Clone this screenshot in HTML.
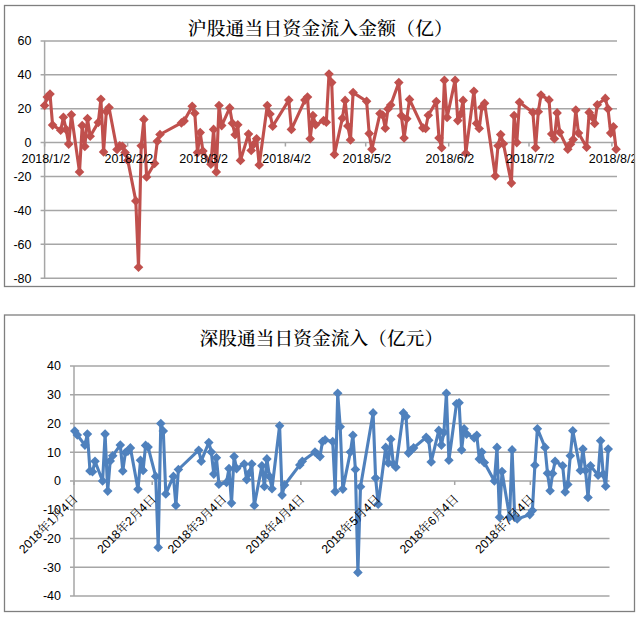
<!DOCTYPE html>
<html lang="zh"><head><meta charset="utf-8"><title>沪股通 / 深股通 当日资金流入</title>
<style>html,body{margin:0;padding:0;background:#fff}svg{display:block}text{font-family:"Liberation Sans","Noto Sans CJK SC",sans-serif;fill:#000}.r{font-family:"Liberation Sans","Noto Serif CJK SC",serif}.t{font-family:"Liberation Serif","Noto Serif CJK SC",serif;font-size:18.67px;font-weight:500;letter-spacing:0.3px;fill:#000}</style></head><body>
<svg width="640" height="619" viewBox="0 0 640 619">
<rect width="640" height="619" fill="#fff"/>
<rect x="4.5" y="5.5" width="630" height="281" fill="#fff" stroke="#7f7f7f" stroke-width="1.3"/>
<line x1="40.6" y1="40.9" x2="617" y2="40.9" stroke="#a6a6a6" stroke-width="1.5"/>
<text x="31.5" y="45.3" font-size="12.5" text-anchor="end">60</text>
<line x1="40.6" y1="74.8" x2="617" y2="74.8" stroke="#a6a6a6" stroke-width="1.5"/>
<text x="31.5" y="79.2" font-size="12.5" text-anchor="end">40</text>
<line x1="40.6" y1="108.7" x2="617" y2="108.7" stroke="#a6a6a6" stroke-width="1.5"/>
<text x="31.5" y="113.1" font-size="12.5" text-anchor="end">20</text>
<line x1="40.6" y1="142.6" x2="617" y2="142.6" stroke="#a6a6a6" stroke-width="1.5"/>
<text x="31.5" y="147.0" font-size="12.5" text-anchor="end">0</text>
<line x1="40.6" y1="176.5" x2="617" y2="176.5" stroke="#a6a6a6" stroke-width="1.5"/>
<text x="31.5" y="180.9" font-size="12.5" text-anchor="end">-20</text>
<line x1="40.6" y1="210.4" x2="617" y2="210.4" stroke="#a6a6a6" stroke-width="1.5"/>
<text x="31.5" y="214.8" font-size="12.5" text-anchor="end">-40</text>
<line x1="40.6" y1="244.3" x2="617" y2="244.3" stroke="#a6a6a6" stroke-width="1.5"/>
<text x="31.5" y="248.7" font-size="12.5" text-anchor="end">-60</text>
<line x1="40.6" y1="278.2" x2="617" y2="278.2" stroke="#a6a6a6" stroke-width="1.5"/>
<text x="31.5" y="282.6" font-size="12.5" text-anchor="end">-80</text>
<line x1="44.6" y1="40.9" x2="44.6" y2="278.2" stroke="#a6a6a6" stroke-width="1.5"/>
<line x1="44.6" y1="142.6" x2="44.6" y2="146.5" stroke="#a6a6a6" stroke-width="1.5"/>
<line x1="127.6" y1="142.6" x2="127.6" y2="146.5" stroke="#a6a6a6" stroke-width="1.5"/>
<line x1="202.5" y1="142.6" x2="202.5" y2="146.5" stroke="#a6a6a6" stroke-width="1.5"/>
<line x1="285.4" y1="142.6" x2="285.4" y2="146.5" stroke="#a6a6a6" stroke-width="1.5"/>
<line x1="365.7" y1="142.6" x2="365.7" y2="146.5" stroke="#a6a6a6" stroke-width="1.5"/>
<line x1="448.7" y1="142.6" x2="448.7" y2="146.5" stroke="#a6a6a6" stroke-width="1.5"/>
<line x1="529.0" y1="142.6" x2="529.0" y2="146.5" stroke="#a6a6a6" stroke-width="1.5"/>
<line x1="611.9" y1="142.6" x2="611.9" y2="146.5" stroke="#a6a6a6" stroke-width="1.5"/>
<clipPath id="c1"><rect x="5" y="6" width="629" height="280"/></clipPath>
<text class="t" x="187.7" y="34.8">沪股通当日资金流入金额（亿）</text>
<polyline fill="none" stroke="#c0504d" stroke-width="3.1" stroke-linejoin="round" points="44.6,105.5 47.3,97.0 50.0,94.1 52.6,125.1 60.7,130.2 63.4,117.3 66.1,129.4 68.7,144.1 71.4,114.8 79.5,171.9 82.2,125.6 84.8,146.5 87.5,118.5 90.2,136.3 98.3,122.4 100.9,99.2 103.6,151.9 106.3,111.6 109.0,107.5 117.0,149.5 119.7,145.7 122.4,146.2 125.1,152.6 127.8,160.4 135.8,200.9 138.5,267.2 141.2,145.7 143.9,119.4 146.6,177.0 154.6,163.4 157.3,141.2 160.0,134.5 181.4,122.9 184.1,120.9 192.2,106.2 194.8,113.3 197.5,152.6 200.2,132.6 202.9,151.1 210.9,164.3 213.6,129.4 216.3,171.9 219.0,105.5 221.7,125.6 229.7,107.9 232.4,123.3 235.1,134.8 237.8,124.8 240.5,160.4 248.5,134.1 251.2,150.4 253.9,144.1 256.6,138.7 259.2,165.0 267.3,105.5 270.0,114.0 272.7,126.3 288.8,100.1 291.4,129.4 304.9,100.1 307.5,97.0 310.2,138.7 312.9,115.5 315.6,124.8 323.6,120.6 326.3,122.3 329.0,74.1 331.7,82.6 334.4,154.5 342.4,118.2 345.1,100.4 347.8,126.0 350.5,139.9 353.1,92.6 366.6,101.2 369.2,133.6 371.9,149.2 380.0,113.6 382.7,115.1 385.3,128.2 388.0,108.9 390.7,105.0 398.8,82.6 401.4,115.8 404.1,138.0 406.8,118.7 409.5,99.4 422.9,127.9 425.6,128.4 428.3,115.3 436.3,101.6 439.0,138.0 441.7,147.7 444.4,80.2 447.1,117.5 455.1,80.2 457.8,120.6 460.5,114.3 463.1,100.4 465.8,153.3 473.9,91.2 476.6,123.4 479.2,128.5 481.9,107.3 484.6,103.3 495.3,176.0 498.0,145.8 500.7,134.6 503.4,143.8 511.4,183.1 514.1,115.5 516.8,142.6 519.5,102.3 532.9,112.4 535.6,147.7 538.3,111.8 541.0,95.1 549.0,99.9 551.7,134.0 554.4,138.7 557.1,112.9 559.7,132.3 567.8,149.2 570.5,144.3 573.2,139.5 575.8,110.1 578.5,133.1 586.6,147.3 589.2,112.4 591.9,116.8 594.6,123.4 597.3,104.8 605.3,98.4 608.0,108.9 610.7,133.1 613.4,126.7 616.1,149.2"/>
<g fill="#c0504d">
<path d="M44.6 100.7L49.4 105.5L44.6 110.3L39.8 105.5Z"/>
<path d="M47.3 92.2L52.1 97.0L47.3 101.8L42.5 97.0Z"/>
<path d="M50.0 89.3L54.8 94.1L50.0 98.9L45.2 94.1Z"/>
<path d="M52.6 120.3L57.4 125.1L52.6 129.9L47.8 125.1Z"/>
<path d="M60.7 125.4L65.5 130.2L60.7 135.0L55.9 130.2Z"/>
<path d="M63.4 112.5L68.2 117.3L63.4 122.1L58.6 117.3Z"/>
<path d="M66.1 124.6L70.9 129.4L66.1 134.2L61.3 129.4Z"/>
<path d="M68.7 139.3L73.5 144.1L68.7 148.9L63.9 144.1Z"/>
<path d="M71.4 110.0L76.2 114.8L71.4 119.6L66.6 114.8Z"/>
<path d="M79.5 167.1L84.3 171.9L79.5 176.7L74.7 171.9Z"/>
<path d="M82.2 120.8L87.0 125.6L82.2 130.4L77.4 125.6Z"/>
<path d="M84.8 141.7L89.6 146.5L84.8 151.3L80.0 146.5Z"/>
<path d="M87.5 113.7L92.3 118.5L87.5 123.3L82.7 118.5Z"/>
<path d="M90.2 131.5L95.0 136.3L90.2 141.1L85.4 136.3Z"/>
<path d="M98.3 117.6L103.1 122.4L98.3 127.2L93.5 122.4Z"/>
<path d="M100.9 94.4L105.7 99.2L100.9 104.0L96.1 99.2Z"/>
<path d="M103.6 147.1L108.4 151.9L103.6 156.7L98.8 151.9Z"/>
<path d="M106.3 106.8L111.1 111.6L106.3 116.4L101.5 111.6Z"/>
<path d="M109.0 102.7L113.8 107.5L109.0 112.3L104.2 107.5Z"/>
<path d="M117.0 144.7L121.8 149.5L117.0 154.3L112.2 149.5Z"/>
<path d="M119.7 140.9L124.5 145.7L119.7 150.5L114.9 145.7Z"/>
<path d="M122.4 141.4L127.2 146.2L122.4 151.0L117.6 146.2Z"/>
<path d="M125.1 147.8L129.9 152.6L125.1 157.4L120.3 152.6Z"/>
<path d="M127.8 155.6L132.6 160.4L127.8 165.2L123.0 160.4Z"/>
<path d="M135.8 196.1L140.6 200.9L135.8 205.7L131.0 200.9Z"/>
<path d="M138.5 262.4L143.3 267.2L138.5 272.0L133.7 267.2Z"/>
<path d="M141.2 140.9L146.0 145.7L141.2 150.5L136.4 145.7Z"/>
<path d="M143.9 114.6L148.7 119.4L143.9 124.2L139.1 119.4Z"/>
<path d="M146.6 172.2L151.4 177.0L146.6 181.8L141.8 177.0Z"/>
<path d="M154.6 158.6L159.4 163.4L154.6 168.2L149.8 163.4Z"/>
<path d="M157.3 136.4L162.1 141.2L157.3 146.0L152.5 141.2Z"/>
<path d="M160.0 129.7L164.8 134.5L160.0 139.3L155.2 134.5Z"/>
<path d="M181.4 118.1L186.2 122.9L181.4 127.7L176.6 122.9Z"/>
<path d="M184.1 116.1L188.9 120.9L184.1 125.7L179.3 120.9Z"/>
<path d="M192.2 101.4L197.0 106.2L192.2 111.0L187.4 106.2Z"/>
<path d="M194.8 108.5L199.6 113.3L194.8 118.1L190.0 113.3Z"/>
<path d="M197.5 147.8L202.3 152.6L197.5 157.4L192.7 152.6Z"/>
<path d="M200.2 127.8L205.0 132.6L200.2 137.4L195.4 132.6Z"/>
<path d="M202.9 146.3L207.7 151.1L202.9 155.9L198.1 151.1Z"/>
<path d="M210.9 159.5L215.7 164.3L210.9 169.1L206.1 164.3Z"/>
<path d="M213.6 124.6L218.4 129.4L213.6 134.2L208.8 129.4Z"/>
<path d="M216.3 167.1L221.1 171.9L216.3 176.7L211.5 171.9Z"/>
<path d="M219.0 100.7L223.8 105.5L219.0 110.3L214.2 105.5Z"/>
<path d="M221.7 120.8L226.5 125.6L221.7 130.4L216.9 125.6Z"/>
<path d="M229.7 103.1L234.5 107.9L229.7 112.7L224.9 107.9Z"/>
<path d="M232.4 118.5L237.2 123.3L232.4 128.1L227.6 123.3Z"/>
<path d="M235.1 130.0L239.9 134.8L235.1 139.6L230.3 134.8Z"/>
<path d="M237.8 120.0L242.6 124.8L237.8 129.6L233.0 124.8Z"/>
<path d="M240.5 155.6L245.3 160.4L240.5 165.2L235.7 160.4Z"/>
<path d="M248.5 129.3L253.3 134.1L248.5 138.9L243.7 134.1Z"/>
<path d="M251.2 145.6L256.0 150.4L251.2 155.2L246.4 150.4Z"/>
<path d="M253.9 139.3L258.7 144.1L253.9 148.9L249.1 144.1Z"/>
<path d="M256.6 133.9L261.4 138.7L256.6 143.5L251.8 138.7Z"/>
<path d="M259.2 160.2L264.0 165.0L259.2 169.8L254.4 165.0Z"/>
<path d="M267.3 100.7L272.1 105.5L267.3 110.3L262.5 105.5Z"/>
<path d="M270.0 109.2L274.8 114.0L270.0 118.8L265.2 114.0Z"/>
<path d="M272.7 121.5L277.5 126.3L272.7 131.1L267.9 126.3Z"/>
<path d="M288.8 95.3L293.6 100.1L288.8 104.9L284.0 100.1Z"/>
<path d="M291.4 124.6L296.2 129.4L291.4 134.2L286.6 129.4Z"/>
<path d="M304.9 95.3L309.7 100.1L304.9 104.9L300.1 100.1Z"/>
<path d="M307.5 92.2L312.3 97.0L307.5 101.8L302.7 97.0Z"/>
<path d="M310.2 133.9L315.0 138.7L310.2 143.5L305.4 138.7Z"/>
<path d="M312.9 110.7L317.7 115.5L312.9 120.3L308.1 115.5Z"/>
<path d="M315.6 120.0L320.4 124.8L315.6 129.6L310.8 124.8Z"/>
<path d="M323.6 115.8L328.4 120.6L323.6 125.4L318.8 120.6Z"/>
<path d="M326.3 117.5L331.1 122.3L326.3 127.1L321.5 122.3Z"/>
<path d="M329.0 69.3L333.8 74.1L329.0 78.9L324.2 74.1Z"/>
<path d="M331.7 77.8L336.5 82.6L331.7 87.4L326.9 82.6Z"/>
<path d="M334.4 149.7L339.2 154.5L334.4 159.3L329.6 154.5Z"/>
<path d="M342.4 113.4L347.2 118.2L342.4 123.0L337.6 118.2Z"/>
<path d="M345.1 95.6L349.9 100.4L345.1 105.2L340.3 100.4Z"/>
<path d="M347.8 121.2L352.6 126.0L347.8 130.8L343.0 126.0Z"/>
<path d="M350.5 135.1L355.3 139.9L350.5 144.7L345.7 139.9Z"/>
<path d="M353.1 87.8L357.9 92.6L353.1 97.4L348.3 92.6Z"/>
<path d="M366.6 96.4L371.4 101.2L366.6 106.0L361.8 101.2Z"/>
<path d="M369.2 128.8L374.0 133.6L369.2 138.4L364.4 133.6Z"/>
<path d="M371.9 144.4L376.7 149.2L371.9 154.0L367.1 149.2Z"/>
<path d="M380.0 108.8L384.8 113.6L380.0 118.4L375.2 113.6Z"/>
<path d="M382.7 110.3L387.5 115.1L382.7 119.9L377.9 115.1Z"/>
<path d="M385.3 123.4L390.1 128.2L385.3 133.0L380.5 128.2Z"/>
<path d="M388.0 104.1L392.8 108.9L388.0 113.7L383.2 108.9Z"/>
<path d="M390.7 100.2L395.5 105.0L390.7 109.8L385.9 105.0Z"/>
<path d="M398.8 77.8L403.6 82.6L398.8 87.4L394.0 82.6Z"/>
<path d="M401.4 111.0L406.2 115.8L401.4 120.6L396.6 115.8Z"/>
<path d="M404.1 133.2L408.9 138.0L404.1 142.8L399.3 138.0Z"/>
<path d="M406.8 113.9L411.6 118.7L406.8 123.5L402.0 118.7Z"/>
<path d="M409.5 94.6L414.3 99.4L409.5 104.2L404.7 99.4Z"/>
<path d="M422.9 123.1L427.7 127.9L422.9 132.7L418.1 127.9Z"/>
<path d="M425.6 123.6L430.4 128.4L425.6 133.2L420.8 128.4Z"/>
<path d="M428.3 110.5L433.1 115.3L428.3 120.1L423.5 115.3Z"/>
<path d="M436.3 96.8L441.1 101.6L436.3 106.4L431.5 101.6Z"/>
<path d="M439.0 133.2L443.8 138.0L439.0 142.8L434.2 138.0Z"/>
<path d="M441.7 142.9L446.5 147.7L441.7 152.5L436.9 147.7Z"/>
<path d="M444.4 75.4L449.2 80.2L444.4 85.0L439.6 80.2Z"/>
<path d="M447.1 112.7L451.9 117.5L447.1 122.3L442.2 117.5Z"/>
<path d="M455.1 75.4L459.9 80.2L455.1 85.0L450.3 80.2Z"/>
<path d="M457.8 115.8L462.6 120.6L457.8 125.4L453.0 120.6Z"/>
<path d="M460.5 109.5L465.3 114.3L460.5 119.1L455.7 114.3Z"/>
<path d="M463.1 95.6L467.9 100.4L463.1 105.2L458.3 100.4Z"/>
<path d="M465.8 148.5L470.6 153.3L465.8 158.1L461.0 153.3Z"/>
<path d="M473.9 86.4L478.7 91.2L473.9 96.0L469.1 91.2Z"/>
<path d="M476.6 118.6L481.4 123.4L476.6 128.2L471.8 123.4Z"/>
<path d="M479.2 123.7L484.0 128.5L479.2 133.3L474.4 128.5Z"/>
<path d="M481.9 102.5L486.7 107.3L481.9 112.1L477.1 107.3Z"/>
<path d="M484.6 98.5L489.4 103.3L484.6 108.1L479.8 103.3Z"/>
<path d="M495.3 171.2L500.1 176.0L495.3 180.8L490.5 176.0Z"/>
<path d="M498.0 141.0L502.8 145.8L498.0 150.6L493.2 145.8Z"/>
<path d="M500.7 129.8L505.5 134.6L500.7 139.4L495.9 134.6Z"/>
<path d="M503.4 139.0L508.2 143.8L503.4 148.6L498.6 143.8Z"/>
<path d="M511.4 178.3L516.2 183.1L511.4 187.9L506.6 183.1Z"/>
<path d="M514.1 110.7L518.9 115.5L514.1 120.3L509.3 115.5Z"/>
<path d="M516.8 137.8L521.6 142.6L516.8 147.4L512.0 142.6Z"/>
<path d="M519.5 97.5L524.3 102.3L519.5 107.1L514.7 102.3Z"/>
<path d="M532.9 107.6L537.7 112.4L532.9 117.2L528.1 112.4Z"/>
<path d="M535.6 142.9L540.4 147.7L535.6 152.5L530.8 147.7Z"/>
<path d="M538.3 107.0L543.1 111.8L538.3 116.6L533.5 111.8Z"/>
<path d="M541.0 90.3L545.8 95.1L541.0 99.9L536.2 95.1Z"/>
<path d="M549.0 95.1L553.8 99.9L549.0 104.7L544.2 99.9Z"/>
<path d="M551.7 129.2L556.5 134.0L551.7 138.8L546.9 134.0Z"/>
<path d="M554.4 133.9L559.2 138.7L554.4 143.5L549.6 138.7Z"/>
<path d="M557.1 108.1L561.9 112.9L557.1 117.7L552.3 112.9Z"/>
<path d="M559.7 127.5L564.5 132.3L559.7 137.1L554.9 132.3Z"/>
<path d="M567.8 144.4L572.6 149.2L567.8 154.0L563.0 149.2Z"/>
<path d="M570.5 139.5L575.3 144.3L570.5 149.1L565.7 144.3Z"/>
<path d="M573.2 134.7L578.0 139.5L573.2 144.3L568.4 139.5Z"/>
<path d="M575.8 105.3L580.6 110.1L575.8 114.9L571.0 110.1Z"/>
<path d="M578.5 128.3L583.3 133.1L578.5 137.9L573.7 133.1Z"/>
<path d="M586.6 142.5L591.4 147.3L586.6 152.1L581.8 147.3Z"/>
<path d="M589.2 107.6L594.0 112.4L589.2 117.2L584.4 112.4Z"/>
<path d="M591.9 112.0L596.7 116.8L591.9 121.6L587.1 116.8Z"/>
<path d="M594.6 118.6L599.4 123.4L594.6 128.2L589.8 123.4Z"/>
<path d="M597.3 100.0L602.1 104.8L597.3 109.6L592.5 104.8Z"/>
<path d="M605.3 93.6L610.1 98.4L605.3 103.2L600.5 98.4Z"/>
<path d="M608.0 104.1L612.8 108.9L608.0 113.7L603.2 108.9Z"/>
<path d="M610.7 128.3L615.5 133.1L610.7 137.9L605.9 133.1Z"/>
<path d="M613.4 121.9L618.2 126.7L613.4 131.5L608.6 126.7Z"/>
<path d="M616.1 144.4L620.9 149.2L616.1 154.0L611.3 149.2Z"/>
</g>
<g clip-path="url(#c1)">
<text x="45.8" y="163.2" font-size="12.5" text-anchor="middle">2018/1/2</text>
<text x="128.8" y="163.2" font-size="12.5" text-anchor="middle">2018/2/2</text>
<text x="203.7" y="163.2" font-size="12.5" text-anchor="middle">2018/3/2</text>
<text x="286.6" y="163.2" font-size="12.5" text-anchor="middle">2018/4/2</text>
<text x="366.9" y="163.2" font-size="12.5" text-anchor="middle">2018/5/2</text>
<text x="449.9" y="163.2" font-size="12.5" text-anchor="middle">2018/6/2</text>
<text x="530.2" y="163.2" font-size="12.5" text-anchor="middle">2018/7/2</text>
<text x="613.1" y="163.2" font-size="12.5" text-anchor="middle">2018/8/2</text>
</g>
<rect x="4.5" y="315" width="630" height="296.5" fill="#fff" stroke="#7f7f7f" stroke-width="1.3"/>
<line x1="70" y1="366.0" x2="609.5" y2="366.0" stroke="#a6a6a6" stroke-width="1.5"/>
<text x="61" y="370.4" font-size="12.5" text-anchor="end">40</text>
<line x1="70" y1="394.8" x2="609.5" y2="394.8" stroke="#a6a6a6" stroke-width="1.5"/>
<text x="61" y="399.1" font-size="12.5" text-anchor="end">30</text>
<line x1="70" y1="423.5" x2="609.5" y2="423.5" stroke="#a6a6a6" stroke-width="1.5"/>
<text x="61" y="427.9" font-size="12.5" text-anchor="end">20</text>
<line x1="70" y1="452.2" x2="609.5" y2="452.2" stroke="#a6a6a6" stroke-width="1.5"/>
<text x="61" y="456.6" font-size="12.5" text-anchor="end">10</text>
<line x1="70" y1="481.0" x2="609.5" y2="481.0" stroke="#a6a6a6" stroke-width="1.5"/>
<text x="61" y="485.4" font-size="12.5" text-anchor="end">0</text>
<line x1="70" y1="509.8" x2="609.5" y2="509.8" stroke="#a6a6a6" stroke-width="1.5"/>
<text x="61" y="514.1" font-size="12.5" text-anchor="end">-10</text>
<line x1="70" y1="538.5" x2="609.5" y2="538.5" stroke="#a6a6a6" stroke-width="1.5"/>
<text x="61" y="542.9" font-size="12.5" text-anchor="end">-20</text>
<line x1="70" y1="567.2" x2="609.5" y2="567.2" stroke="#a6a6a6" stroke-width="1.5"/>
<text x="61" y="571.6" font-size="12.5" text-anchor="end">-30</text>
<line x1="70" y1="596.0" x2="609.5" y2="596.0" stroke="#a6a6a6" stroke-width="1.5"/>
<text x="61" y="600.4" font-size="12.5" text-anchor="end">-40</text>
<line x1="74" y1="366.0" x2="74" y2="596.0" stroke="#a6a6a6" stroke-width="1.5"/>
<line x1="74.0" y1="481" x2="74.0" y2="485" stroke="#a6a6a6" stroke-width="1.5"/>
<line x1="152.2" y1="481" x2="152.2" y2="485" stroke="#a6a6a6" stroke-width="1.5"/>
<line x1="222.7" y1="481" x2="222.7" y2="485" stroke="#a6a6a6" stroke-width="1.5"/>
<line x1="300.9" y1="481" x2="300.9" y2="485" stroke="#a6a6a6" stroke-width="1.5"/>
<line x1="376.5" y1="481" x2="376.5" y2="485" stroke="#a6a6a6" stroke-width="1.5"/>
<line x1="454.7" y1="481" x2="454.7" y2="485" stroke="#a6a6a6" stroke-width="1.5"/>
<line x1="530.3" y1="481" x2="530.3" y2="485" stroke="#a6a6a6" stroke-width="1.5"/>
<text class="t" x="199.5" y="344.8" style="letter-spacing:0.1px">深股通当日资金流入（亿元）</text>
<polyline fill="none" stroke="#4f81bd" stroke-width="3.1" stroke-linejoin="round" points="74.8,431.0 77.3,435.0 84.9,445.1 87.4,434.1 90.0,470.9 92.5,471.8 95.0,461.2 102.6,481.0 105.1,434.1 107.7,491.1 110.2,460.9 112.7,455.7 120.3,445.1 122.8,470.9 125.4,452.5 127.9,451.1 130.4,447.9 138.0,489.3 140.5,460.3 143.1,470.4 145.6,445.4 148.1,447.1 155.7,476.4 158.2,547.4 160.8,423.5 163.3,431.0 165.8,493.9 173.4,476.4 175.9,505.4 178.4,469.5 198.7,450.2 201.2,461.2 208.8,442.5 211.3,452.0 213.8,474.1 216.4,457.7 218.9,484.2 226.5,482.4 229.0,468.6 231.5,503.1 234.1,456.6 236.6,468.6 244.2,464.0 246.7,479.6 249.2,473.2 251.8,464.0 254.3,505.4 261.9,465.8 264.4,486.5 266.9,458.9 269.5,476.4 272.0,488.8 279.6,425.8 282.1,495.1 284.6,485.0 299.8,464.9 302.3,461.2 315.0,452.0 317.5,454.3 320.0,456.6 322.5,441.6 325.1,439.9 332.7,441.6 335.2,491.6 337.7,393.3 340.2,426.7 342.8,489.1 350.4,452.0 352.9,435.3 355.4,469.5 357.9,572.4 360.5,486.8 373.1,412.9 375.6,478.1 378.2,504.3 385.7,447.4 388.3,462.9 390.8,439.3 393.3,464.0 395.9,467.2 403.4,412.9 406.0,416.6 408.5,453.1 411.0,450.2 413.6,447.9 426.2,437.3 428.7,440.2 431.2,462.0 438.8,430.4 441.4,445.1 443.9,432.4 446.4,393.3 448.9,460.3 456.5,403.7 459.1,402.8 461.6,449.9 464.1,428.7 466.6,434.1 474.2,437.9 476.8,435.3 479.3,459.1 481.8,452.0 484.3,462.6 494.4,481.0 497.0,447.4 499.5,517.2 502.0,471.5 509.6,516.9 512.1,449.9 514.7,517.2 517.2,519.0 529.8,514.6 532.4,510.6 534.9,465.2 537.4,428.7 545.0,447.4 547.5,473.2 550.1,490.8 552.6,473.5 555.1,461.2 562.7,465.8 565.2,491.9 567.8,484.4 570.3,455.7 572.8,430.7 580.4,470.4 582.9,449.1 585.5,470.4 588.0,497.4 590.5,465.8 598.1,475.2 600.6,440.8 603.2,474.1 605.7,486.2 608.2,449.1"/>
<g fill="#4f81bd">
<path d="M74.8 426.2L79.6 431.0L74.8 435.8L70.0 431.0Z"/>
<path d="M77.3 430.2L82.1 435.0L77.3 439.8L72.5 435.0Z"/>
<path d="M84.9 440.3L89.7 445.1L84.9 449.9L80.1 445.1Z"/>
<path d="M87.4 429.3L92.2 434.1L87.4 438.9L82.6 434.1Z"/>
<path d="M90.0 466.1L94.8 470.9L90.0 475.7L85.2 470.9Z"/>
<path d="M92.5 467.0L97.3 471.8L92.5 476.6L87.7 471.8Z"/>
<path d="M95.0 456.4L99.8 461.2L95.0 466.0L90.2 461.2Z"/>
<path d="M102.6 476.2L107.4 481.0L102.6 485.8L97.8 481.0Z"/>
<path d="M105.1 429.3L109.9 434.1L105.1 438.9L100.3 434.1Z"/>
<path d="M107.7 486.3L112.5 491.1L107.7 495.9L102.9 491.1Z"/>
<path d="M110.2 456.1L115.0 460.9L110.2 465.7L105.4 460.9Z"/>
<path d="M112.7 450.9L117.5 455.7L112.7 460.5L107.9 455.7Z"/>
<path d="M120.3 440.3L125.1 445.1L120.3 449.9L115.5 445.1Z"/>
<path d="M122.8 466.1L127.6 470.9L122.8 475.7L118.0 470.9Z"/>
<path d="M125.4 447.7L130.2 452.5L125.4 457.3L120.6 452.5Z"/>
<path d="M127.9 446.3L132.7 451.1L127.9 455.9L123.1 451.1Z"/>
<path d="M130.4 443.1L135.2 447.9L130.4 452.7L125.6 447.9Z"/>
<path d="M138.0 484.5L142.8 489.3L138.0 494.1L133.2 489.3Z"/>
<path d="M140.5 455.5L145.3 460.3L140.5 465.1L135.7 460.3Z"/>
<path d="M143.1 465.6L147.9 470.4L143.1 475.2L138.3 470.4Z"/>
<path d="M145.6 440.6L150.4 445.4L145.6 450.2L140.8 445.4Z"/>
<path d="M148.1 442.3L152.9 447.1L148.1 451.9L143.3 447.1Z"/>
<path d="M155.7 471.6L160.5 476.4L155.7 481.2L150.9 476.4Z"/>
<path d="M158.2 542.6L163.0 547.4L158.2 552.2L153.4 547.4Z"/>
<path d="M160.8 418.7L165.6 423.5L160.8 428.3L156.0 423.5Z"/>
<path d="M163.3 426.2L168.1 431.0L163.3 435.8L158.5 431.0Z"/>
<path d="M165.8 489.1L170.6 493.9L165.8 498.7L161.0 493.9Z"/>
<path d="M173.4 471.6L178.2 476.4L173.4 481.2L168.6 476.4Z"/>
<path d="M175.9 500.6L180.7 505.4L175.9 510.2L171.1 505.4Z"/>
<path d="M178.4 464.7L183.2 469.5L178.4 474.3L173.6 469.5Z"/>
<path d="M198.7 445.4L203.5 450.2L198.7 455.0L193.9 450.2Z"/>
<path d="M201.2 456.4L206.0 461.2L201.2 466.0L196.4 461.2Z"/>
<path d="M208.8 437.7L213.6 442.5L208.8 447.3L204.0 442.5Z"/>
<path d="M211.3 447.2L216.1 452.0L211.3 456.8L206.5 452.0Z"/>
<path d="M213.8 469.3L218.6 474.1L213.8 478.9L209.0 474.1Z"/>
<path d="M216.4 452.9L221.2 457.7L216.4 462.5L211.6 457.7Z"/>
<path d="M218.9 479.4L223.7 484.2L218.9 489.0L214.1 484.2Z"/>
<path d="M226.5 477.6L231.3 482.4L226.5 487.2L221.7 482.4Z"/>
<path d="M229.0 463.8L233.8 468.6L229.0 473.4L224.2 468.6Z"/>
<path d="M231.5 498.3L236.3 503.1L231.5 507.9L226.7 503.1Z"/>
<path d="M234.1 451.8L238.9 456.6L234.1 461.4L229.3 456.6Z"/>
<path d="M236.6 463.8L241.4 468.6L236.6 473.4L231.8 468.6Z"/>
<path d="M244.2 459.2L249.0 464.0L244.2 468.8L239.4 464.0Z"/>
<path d="M246.7 474.8L251.5 479.6L246.7 484.4L241.9 479.6Z"/>
<path d="M249.2 468.4L254.0 473.2L249.2 478.0L244.4 473.2Z"/>
<path d="M251.8 459.2L256.6 464.0L251.8 468.8L247.0 464.0Z"/>
<path d="M254.3 500.6L259.1 505.4L254.3 510.2L249.5 505.4Z"/>
<path d="M261.9 461.0L266.7 465.8L261.9 470.6L257.1 465.8Z"/>
<path d="M264.4 481.7L269.2 486.5L264.4 491.3L259.6 486.5Z"/>
<path d="M266.9 454.1L271.7 458.9L266.9 463.7L262.1 458.9Z"/>
<path d="M269.5 471.6L274.3 476.4L269.5 481.2L264.7 476.4Z"/>
<path d="M272.0 484.0L276.8 488.8L272.0 493.6L267.2 488.8Z"/>
<path d="M279.6 421.0L284.4 425.8L279.6 430.6L274.8 425.8Z"/>
<path d="M282.1 490.3L286.9 495.1L282.1 499.9L277.3 495.1Z"/>
<path d="M284.6 480.2L289.4 485.0L284.6 489.8L279.8 485.0Z"/>
<path d="M299.8 460.1L304.6 464.9L299.8 469.7L295.0 464.9Z"/>
<path d="M302.3 456.4L307.1 461.2L302.3 466.0L297.5 461.2Z"/>
<path d="M315.0 447.2L319.8 452.0L315.0 456.8L310.2 452.0Z"/>
<path d="M317.5 449.5L322.3 454.3L317.5 459.1L312.7 454.3Z"/>
<path d="M320.0 451.8L324.8 456.6L320.0 461.4L315.2 456.6Z"/>
<path d="M322.5 436.8L327.3 441.6L322.5 446.4L317.7 441.6Z"/>
<path d="M325.1 435.1L329.9 439.9L325.1 444.7L320.3 439.9Z"/>
<path d="M332.7 436.8L337.5 441.6L332.7 446.4L327.9 441.6Z"/>
<path d="M335.2 486.8L340.0 491.6L335.2 496.4L330.4 491.6Z"/>
<path d="M337.7 388.5L342.5 393.3L337.7 398.1L332.9 393.3Z"/>
<path d="M340.2 421.9L345.0 426.7L340.2 431.5L335.4 426.7Z"/>
<path d="M342.8 484.2L347.6 489.1L342.8 493.9L338.0 489.1Z"/>
<path d="M350.4 447.2L355.2 452.0L350.4 456.8L345.6 452.0Z"/>
<path d="M352.9 430.5L357.7 435.3L352.9 440.1L348.1 435.3Z"/>
<path d="M355.4 464.7L360.2 469.5L355.4 474.3L350.6 469.5Z"/>
<path d="M357.9 567.6L362.7 572.4L357.9 577.2L353.1 572.4Z"/>
<path d="M360.5 481.9L365.3 486.8L360.5 491.6L355.7 486.8Z"/>
<path d="M373.1 408.1L377.9 412.9L373.1 417.7L368.3 412.9Z"/>
<path d="M375.6 473.3L380.4 478.1L375.6 482.9L370.8 478.1Z"/>
<path d="M378.2 499.5L383.0 504.3L378.2 509.1L373.4 504.3Z"/>
<path d="M385.7 442.6L390.5 447.4L385.7 452.2L380.9 447.4Z"/>
<path d="M388.3 458.1L393.1 462.9L388.3 467.7L383.5 462.9Z"/>
<path d="M390.8 434.5L395.6 439.3L390.8 444.1L386.0 439.3Z"/>
<path d="M393.3 459.2L398.1 464.0L393.3 468.8L388.5 464.0Z"/>
<path d="M395.9 462.4L400.7 467.2L395.9 472.0L391.1 467.2Z"/>
<path d="M403.4 408.1L408.2 412.9L403.4 417.7L398.6 412.9Z"/>
<path d="M406.0 411.8L410.8 416.6L406.0 421.4L401.2 416.6Z"/>
<path d="M408.5 448.3L413.3 453.1L408.5 457.9L403.7 453.1Z"/>
<path d="M411.0 445.4L415.8 450.2L411.0 455.0L406.2 450.2Z"/>
<path d="M413.6 443.1L418.4 447.9L413.6 452.7L408.8 447.9Z"/>
<path d="M426.2 432.5L431.0 437.3L426.2 442.1L421.4 437.3Z"/>
<path d="M428.7 435.4L433.5 440.2L428.7 445.0L423.9 440.2Z"/>
<path d="M431.2 457.2L436.0 462.0L431.2 466.8L426.4 462.0Z"/>
<path d="M438.8 425.6L443.6 430.4L438.8 435.2L434.0 430.4Z"/>
<path d="M441.4 440.3L446.2 445.1L441.4 449.9L436.6 445.1Z"/>
<path d="M443.9 427.6L448.7 432.4L443.9 437.2L439.1 432.4Z"/>
<path d="M446.4 388.5L451.2 393.3L446.4 398.1L441.6 393.3Z"/>
<path d="M448.9 455.5L453.7 460.3L448.9 465.1L444.1 460.3Z"/>
<path d="M456.5 398.9L461.3 403.7L456.5 408.5L451.7 403.7Z"/>
<path d="M459.1 398.0L463.9 402.8L459.1 407.6L454.3 402.8Z"/>
<path d="M461.6 445.1L466.4 449.9L461.6 454.8L456.8 449.9Z"/>
<path d="M464.1 423.9L468.9 428.7L464.1 433.5L459.3 428.7Z"/>
<path d="M466.6 429.3L471.4 434.1L466.6 438.9L461.8 434.1Z"/>
<path d="M474.2 433.1L479.0 437.9L474.2 442.7L469.4 437.9Z"/>
<path d="M476.8 430.5L481.6 435.3L476.8 440.1L472.0 435.3Z"/>
<path d="M479.3 454.3L484.1 459.1L479.3 463.9L474.5 459.1Z"/>
<path d="M481.8 447.2L486.6 452.0L481.8 456.8L477.0 452.0Z"/>
<path d="M484.3 457.8L489.1 462.6L484.3 467.4L479.5 462.6Z"/>
<path d="M494.4 476.2L499.2 481.0L494.4 485.8L489.6 481.0Z"/>
<path d="M497.0 442.6L501.8 447.4L497.0 452.2L492.2 447.4Z"/>
<path d="M499.5 512.4L504.3 517.2L499.5 522.0L494.7 517.2Z"/>
<path d="M502.0 466.7L506.8 471.5L502.0 476.3L497.2 471.5Z"/>
<path d="M509.6 512.1L514.4 516.9L509.6 521.7L504.8 516.9Z"/>
<path d="M512.1 445.1L516.9 449.9L512.1 454.8L507.3 449.9Z"/>
<path d="M514.7 512.4L519.5 517.2L514.7 522.0L509.9 517.2Z"/>
<path d="M517.2 514.2L522.0 519.0L517.2 523.8L512.4 519.0Z"/>
<path d="M529.8 509.8L534.6 514.6L529.8 519.4L525.0 514.6Z"/>
<path d="M532.4 505.8L537.2 510.6L532.4 515.4L527.6 510.6Z"/>
<path d="M534.9 460.4L539.7 465.2L534.9 470.0L530.1 465.2Z"/>
<path d="M537.4 423.9L542.2 428.7L537.4 433.5L532.6 428.7Z"/>
<path d="M545.0 442.6L549.8 447.4L545.0 452.2L540.2 447.4Z"/>
<path d="M547.5 468.4L552.3 473.2L547.5 478.0L542.7 473.2Z"/>
<path d="M550.1 486.0L554.9 490.8L550.1 495.6L545.3 490.8Z"/>
<path d="M552.6 468.7L557.4 473.5L552.6 478.3L547.8 473.5Z"/>
<path d="M555.1 456.4L559.9 461.2L555.1 466.0L550.3 461.2Z"/>
<path d="M562.7 461.0L567.5 465.8L562.7 470.6L557.9 465.8Z"/>
<path d="M565.2 487.1L570.0 491.9L565.2 496.7L560.4 491.9Z"/>
<path d="M567.8 479.6L572.6 484.4L567.8 489.2L563.0 484.4Z"/>
<path d="M570.3 450.9L575.1 455.7L570.3 460.5L565.5 455.7Z"/>
<path d="M572.8 425.9L577.6 430.7L572.8 435.5L568.0 430.7Z"/>
<path d="M580.4 465.6L585.2 470.4L580.4 475.2L575.6 470.4Z"/>
<path d="M582.9 444.3L587.7 449.1L582.9 453.9L578.1 449.1Z"/>
<path d="M585.5 465.6L590.3 470.4L585.5 475.2L580.7 470.4Z"/>
<path d="M588.0 492.6L592.8 497.4L588.0 502.2L583.2 497.4Z"/>
<path d="M590.5 461.0L595.3 465.8L590.5 470.6L585.7 465.8Z"/>
<path d="M598.1 470.4L602.9 475.2L598.1 480.1L593.3 475.2Z"/>
<path d="M600.6 435.9L605.4 440.8L600.6 445.6L595.8 440.8Z"/>
<path d="M603.2 469.3L608.0 474.1L603.2 478.9L598.4 474.1Z"/>
<path d="M605.7 481.4L610.5 486.2L605.7 491.0L600.9 486.2Z"/>
<path d="M608.2 444.3L613.0 449.1L608.2 453.9L603.4 449.1Z"/>
</g>
<text transform="translate(75.5,496.5) rotate(-45)" font-size="12.2" text-anchor="end" y="4.3" class="r">2018年1月4日</text>
<text transform="translate(153.7,496.5) rotate(-45)" font-size="12.2" text-anchor="end" y="4.3" class="r">2018年2月4日</text>
<text transform="translate(224.2,496.5) rotate(-45)" font-size="12.2" text-anchor="end" y="4.3" class="r">2018年3月4日</text>
<text transform="translate(302.4,496.5) rotate(-45)" font-size="12.2" text-anchor="end" y="4.3" class="r">2018年4月4日</text>
<text transform="translate(378.0,496.5) rotate(-45)" font-size="12.2" text-anchor="end" y="4.3" class="r">2018年5月4日</text>
<text transform="translate(456.2,496.5) rotate(-45)" font-size="12.2" text-anchor="end" y="4.3" class="r">2018年6月4日</text>
<text transform="translate(531.8,496.5) rotate(-45)" font-size="12.2" text-anchor="end" y="4.3" class="r">2018年7月4日</text>
</svg></body></html>
